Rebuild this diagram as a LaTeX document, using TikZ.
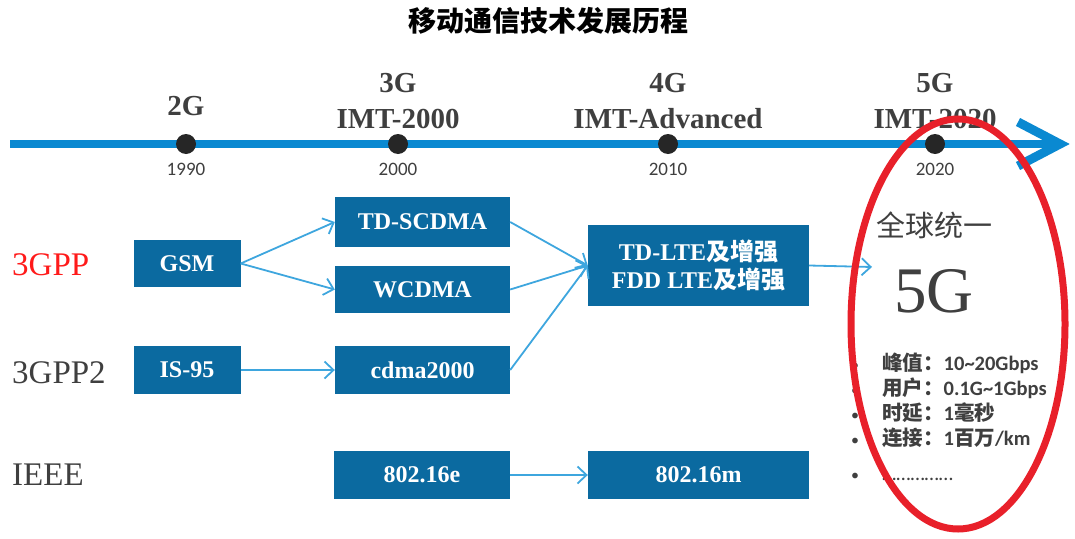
\documentclass[tikz,border=0pt]{standalone}
\usepackage{fontspec}
\setmainfont{Liberation Serif}
\newfontfamily\cjkfont{Noto Sans CJK SC}
\newfontfamily\calfont{Carlito}
\usetikzlibrary{arrows.meta}
\definecolor{boxblue}{HTML}{0B6AA0}
\definecolor{lineblue}{HTML}{0A89D1}
\definecolor{arrblue}{HTML}{3EA6DE}
\definecolor{dotgray}{HTML}{262626}
\definecolor{txtgray}{HTML}{3F3F3F}
\definecolor{ovalred}{HTML}{E8202A}
\definecolor{gppred}{HTML}{FF1A1A}
\tikzset{
  techbox/.style={fill=boxblue, text=white, inner sep=0pt, align=center,
    font=\bfseries\fontsize{24}{28}\selectfont},
  conn/.style={draw=arrblue, line width=1.8pt,
    -{Straight Barb[length=9pt,width=17pt,line width=1.8pt]}},
  tldot/.style={circle, fill=dotgray, minimum size=20pt, inner sep=0pt},
  yearlbl/.style={anchor=base, inner sep=0pt, text=txtgray,
    font=\calfont\fontsize{19}{19}\selectfont},
  genlbl/.style={anchor=base, inner sep=0pt, text=txtgray,
    font=\bfseries\fontsize{29}{29}\selectfont},
  orglbl/.style={anchor=base west, inner sep=0pt,
    font=\fontsize{33}{33}\selectfont},
  featlbl/.style={anchor=base west, inner sep=0pt, text=txtgray,
    font=\fontsize{20.5}{20.5}\selectfont},
  bulletlbl/.style={anchor=base, inner sep=0pt, text=txtgray,
    font=\calfont\fontsize{16}{16}\selectfont},
}
\begin{document}
\begin{tikzpicture}[x=1pt,y=-1pt]
\path[use as bounding box] (0,0) rectangle (1075,538);

% title
\node[font=\cjkfont\bfseries\fontsize{28}{28}\selectfont, inner sep=0pt] (title) at (548,21) {移动通信技术发展历程};

% timeline
\coordinate (tlstart) at (10,144);
\coordinate (tltip) at (1060,144);
\draw[lineblue, line width=8pt] (tlstart) -- ([xshift=-3]tltip);
\draw[lineblue, line width=9pt, line join=miter] ([shift={(-42,-22)}]tltip) -- (tltip) -- ([shift={(-42,22)}]tltip);

\node[tldot] (d1990) at (186,144) {};
\node[tldot] (d2000) at (398,144) {};
\node[tldot] (d2010) at (668,144) {};
\node[tldot] (d2020) at (935,144) {};

\node[yearlbl] (y1990) at (186,175) {1990};
\node[yearlbl] (y2000) at (398,175) {2000};
\node[yearlbl] (y2010) at (668,175) {2010};
\node[yearlbl] (y2020) at (935,175) {2020};

\node[genlbl] (g2) at (186,115) {2G};
\node[genlbl] (g3) at (398,92) {3G};
\node[genlbl] (imt3) at (398,128) {IMT-2000};
\node[genlbl] (g4) at (668,92) {4G};
\node[genlbl] (imt4) at (668,128) {IMT-Advanced};
\node[genlbl] (g5) at (935,92) {5G};
\node[genlbl] (imt5) at (935,128) {IMT-2020};

% organisations
\node[orglbl, text=gppred] (o3gpp) at (12,275) {3GPP};
\node[orglbl, text=txtgray] (o3gpp2) at (12,383) {3GPP2};
\node[orglbl, text=txtgray] (oieee) at (12,485) {IEEE};

% boxes
\node[techbox, minimum width=107pt, minimum height=47pt] (gsm) at (187,263.5) {GSM};
\node[techbox, minimum width=175pt, minimum height=50pt] (tdscdma) at (422.5,222) {TD-SCDMA};
\node[techbox, minimum width=175pt, minimum height=47pt] (wcdma) at (422.5,289.5) {WCDMA};
\node[techbox, minimum width=107pt, minimum height=48pt] (is95) at (187,370) {IS-95};
\node[techbox, minimum width=175pt, minimum height=48pt] (cdma) at (422.5,370) {cdma2000};
\node[techbox, minimum width=221pt, minimum height=81pt] (lte) at (698.5,265.5)
  {TD-LTE{\cjkfont 及增强}\\FDD LTE{\cjkfont 及增强}};
\node[techbox, minimum width=176pt, minimum height=48pt] (w16e) at (422,475) {802.16e};
\node[techbox, minimum width=221pt, minimum height=48pt] (w16m) at (698.5,475) {802.16m};

% connectors
\draw[conn] (gsm.east) -- (tdscdma.west);
\draw[conn] (gsm.east) -- (wcdma.west);
\draw[conn] (is95.east) -- (cdma.west);
\draw[conn] (tdscdma.east) -- (lte.west);
\draw[conn] (wcdma.east) -- (lte.west);
\draw[conn] (cdma.east) -- (lte.west);
\draw[conn] (w16e.east) -- (w16m.west);
\coordinate (fivein) at (872,267);
\draw[conn] (lte.east) -- (fivein);

% 5G description
\node[anchor=west, inner sep=0pt, text=txtgray, font=\cjkfont\fontsize{29}{29}\selectfont] (unify) at (876,225) {全球统一};
\node[anchor=base west, inner sep=0pt, text=txtgray, font=\fontsize{65}{65}\selectfont] (big5g) at (894,312) {5G};

\node[bulletlbl] (b1) at (855,370) {•};
\node[bulletlbl] (b2) at (855,395) {•};
\node[bulletlbl] (b3) at (855,420) {•};
\node[bulletlbl] (b4) at (855,445) {•};
\node[bulletlbl] (b5) at (855,480) {•};

\node[featlbl] (f1) at (882,370) {{\cjkfont\bfseries 峰值：}{\calfont\bfseries 10\textasciitilde20Gbps}};
\node[featlbl] (f2) at (882,395) {{\cjkfont\bfseries 用户：}{\calfont\bfseries 0.1G\textasciitilde1Gbps}};
\node[featlbl] (f3) at (882,420) {{\cjkfont\bfseries 时延：}{\calfont\bfseries 1}{\cjkfont\bfseries 毫秒}};
\node[featlbl] (f4) at (882,445) {{\cjkfont\bfseries 连接：}{\calfont\bfseries 1}{\cjkfont\bfseries 百万}{\calfont\bfseries /km}};
\node[featlbl] (f5) at (882,480) {{\calfont ……………}};

% red oval
\draw[ovalred, line width=7pt] (958,324) ellipse [x radius=107, y radius=205];
\end{tikzpicture}
\end{document}
